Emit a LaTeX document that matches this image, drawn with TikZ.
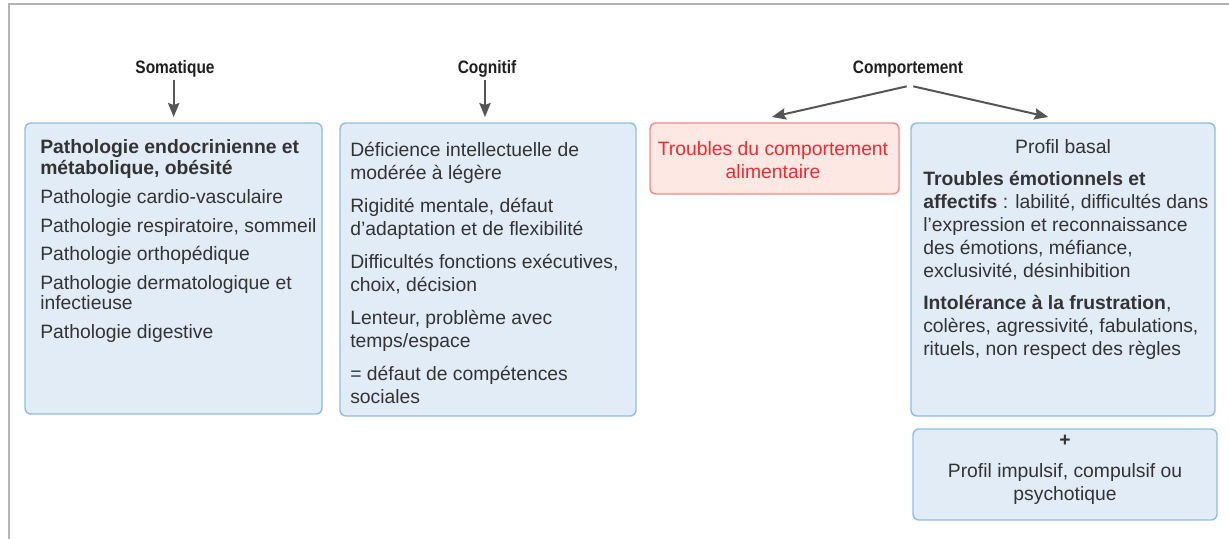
\documentclass[tikz,border=0pt]{standalone}
\usepackage{fontspec}
\setmainfont{Liberation Sans}
\usetikzlibrary{arrows.meta}

\definecolor{boxfill}{HTML}{E2ECF7}
\definecolor{boxline}{HTML}{8DBFE3}
\definecolor{redfill}{HTML}{FDE8E4}
\definecolor{redline}{HTML}{F28A8A}
\definecolor{redtext}{HTML}{EE2B30}
\definecolor{bodygray}{HTML}{333333}
\definecolor{arrgray}{HTML}{555555}
\definecolor{framegray}{HTML}{B4B4B4}

% narrow bold heading text
\newcommand{\headtext}[1]{\scalebox{0.86}[1]{#1}}

\tikzset{
  bluebox/.style={draw=boxline, fill=boxfill, line width=1.1pt, rounded corners=4.5pt,
    anchor=north west, inner sep=0pt, outer sep=0pt},
  redbox/.style={draw=redline, fill=redfill, line width=1.1pt, rounded corners=4.5pt,
    anchor=north west, inner sep=0pt, outer sep=0pt},
  head/.style={font=\bfseries\fontsize{13.5}{15}\selectfont, text=black!88, inner sep=2pt, anchor=base},
  tighttxt/.style={font=\fontsize{14.5}{15}\selectfont, text=bodygray, align=left, inner sep=0pt},
  bodytxt/.style={font=\fontsize{14.5}{17.25}\selectfont, text=bodygray, align=left, inner sep=0pt},
  arr/.style={draw=arrgray, line width=1.5pt, -{Stealth[length=10.5pt, width=8.5pt, inset=1.5pt]}}
}

\begin{document}
\begin{tikzpicture}[x=0.75pt, y=-0.75pt]
    \useasboundingbox (0,0) rectangle (1229,539);

    % Frame
    \draw[framegray, line width=1.5pt] (1229,4) -- (9,4) -- (9,539);

    % Somatique
    \node[head] (somahead) at (175,73) {\headtext{Somatique}};
    \node[bluebox, minimum width=222.75pt, minimum height=218.25pt] (soma) at (25,123) {};
    \node[tighttxt, anchor=north west] (somatxt) at (40,139) {\strut\textbf{Pathologie endocrinienne et}\\
        \textbf{métabolique, obésité}\\[6.5pt]
        Pathologie cardio-vasculaire\\[6.5pt]
        Pathologie respiratoire, sommeil\\[6.5pt]
        Pathologie orthopédique\\[6.5pt]
        Pathologie dermatologique et\\
        infectieuse\\[6.5pt]
        Pathologie digestive};
    \draw[arr, shorten >=4.5pt] ([xshift=-1pt]somahead.south) -- ([xshift=-1pt]somahead.south |- soma.north);

    % Cognitif
    \node[head] (coghead) at (487,73) {\headtext{Cognitif}};
    \node[bluebox, minimum width=222pt, minimum height=219.75pt] (cog) at (340,123) {};
    \node[bodytxt, anchor=north west] (cogtxt) at (350,140) {\strut Déficience intellectuelle de\\
        modérée à légère\\[7.5pt]
        Rigidité mentale, défaut\\
        d’adaptation et de flexibilité\\[7.5pt]
        Difficultés fonctions exécutives,\\
        choix, décision\\[7.5pt]
        Lenteur, problème avec\\
        temps/espace\\[7.5pt]
        = défaut de compétences\\
        sociales};
    \draw[arr, shorten >=4.5pt] ([xshift=-1.5pt]coghead.south) -- ([xshift=-1.5pt]coghead.south |- cog.north);

    % Comportement
    \node[head] (comphead) at (908,73) {\headtext{Comportement}};
    \node[redbox, minimum width=186.75pt, minimum height=53.25pt] (eat) at (650,123) {};
    \node[bodytxt, text=redtext, align=center, anchor=north] (eattxt) at (773,139)
        {\strut Troubles du comportement\\ alimentaire};
    \node[bluebox, minimum width=228pt, minimum height=219.75pt] (basal) at (911,123) {};
    \node[bodytxt, anchor=base] (basaltitle) at (1063,153) {Profil basal};
    \node[bodytxt, anchor=north west] (basaltxt) at (923,169) {\strut\textbf{Troubles émotionnels et}\\
        \textbf{affectifs} : labilité, difficultés dans\\
        l’expression et reconnaissance\\
        des émotions, méfiance,\\
        exclusivité, désinhibition\\[7pt]
        \textbf{Intolérance à la frustration},\\
        colères, agressivité, fabulations,\\
        rituels, non respect des règles};
    \node[bluebox, minimum width=228pt, minimum height=68.25pt] (impul) at (913,429) {};
    \node[bodytxt, align=center, anchor=north] (impultxt) at (1065,430) {\strut\textbf{+}\\[6pt]
        Profil impulsif, compulsif ou\\
        psychotique};
    \draw[arr] ([xshift=-1pt, yshift=-5pt]comphead.south) -- ([xshift=-2pt, yshift=4.5pt]eat.north);
    \draw[arr] ([xshift=4pt, yshift=-5pt]comphead.south) -- ([xshift=-11pt, yshift=4.5pt]basal.north);
\end{tikzpicture}
\end{document}
